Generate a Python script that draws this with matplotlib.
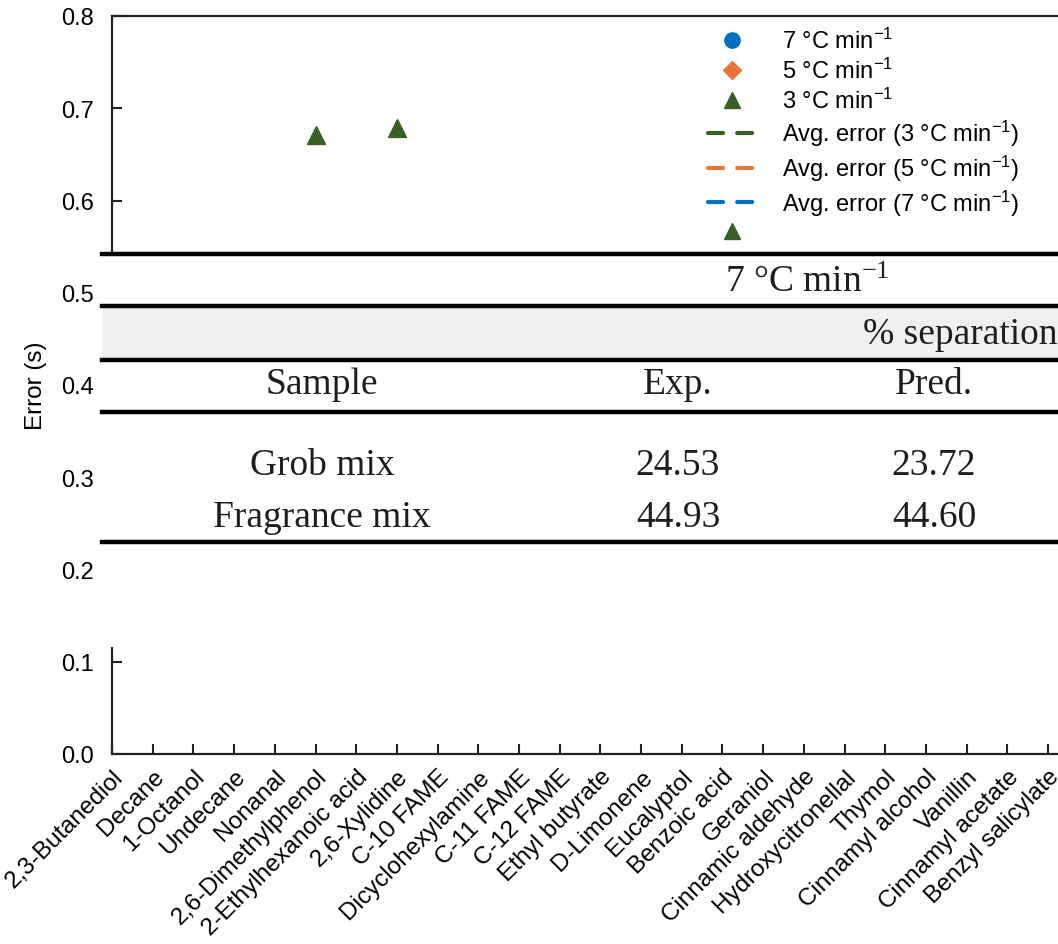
import numpy as np
import matplotlib
matplotlib.use("Agg")
import matplotlib.pyplot as plt
from matplotlib.lines import Line2D
from matplotlib.patches import Rectangle

plt.rcParams["font.family"] = ["Liberation Sans", "DejaVu Sans"]
plt.rcParams["mathtext.default"] = "regular"

# ---------------------------------------------------------------
# Data
# ---------------------------------------------------------------
compounds = [
    "2,3-Butanediol", "Decane", "1-Octanol", "Undecane", "Nonanal",
    "2,6-Dimethylphenol", "2-Ethylhexanoic acid", "2,6-Xylidine",
    "C-10 FAME", "Dicyclohexylamine", "C-11 FAME", "C-12 FAME",
    "Ethyl butyrate", "D-Limonene", "Eucalyptol", "Benzoic acid",
    "Geraniol", "Cinnamic aldehyde", "Hydroxycitronellal", "Thymol",
    "Cinnamyl alcohol", "Vanillin", "Cinnamyl acetate", "Benzyl salicylate",
]
# only the points visible above the table overlay
err_3 = {"2,6-Dimethylphenol": 0.671, "2,6-Xylidine": 0.679}

table_title = r"7 °C min$^{-1}$"
table_group = "% separation"
table_cols = ["Sample", "Exp.", "Pred."]
table_samples = ["Grob mix", "Fragrance mix"]
table_exp = ["24.53", "44.93"]
table_pred = ["23.72", "44.60"]

C_BLUE = "#0070C0"
C_ORANGE = "#E8743B"
C_GREEN = "#3A5F27"

W, H = 1058, 945
fig = plt.figure(figsize=(W / 100, H / 100), dpi=100)


def fx(x):
    return x / W


def fy(y):
    return 1 - y / H


# axes: left spine at x=112, y=0.8 at 17, y=0.0 at 755; 40.7 px per category
x_max = 26
ax = fig.add_axes([fx(112), fy(755), x_max * 40.7 / W, (755 - 17) / H])

idx = {c: i for i, c in enumerate(compounds)}
xs = [idx[c] for c in err_3]
ax.plot(xs, list(err_3.values()), ls="none", marker="^", ms=13, color=C_GREEN)

ax.set_xlim(0, x_max)
ax.set_ylim(0, 0.8)
ax.set_yticks(np.arange(0, 0.81, 0.1))
ax.set_yticklabels([f"{v:.1f}" for v in np.arange(0, 0.81, 0.1)])
ax.set_xticks(range(len(compounds)))
ax.set_xticklabels(compounds, rotation=45, ha="right", va="top",
                   rotation_mode="anchor")
ax.tick_params(axis="both", direction="in", length=7, width=1.5, color="#222")
ax.tick_params(axis="y", pad=13, labelsize=17)
ax.tick_params(axis="x", pad=8, labelsize=17.5)
for s in ["left", "bottom", "top"]:
    ax.spines[s].set_linewidth(1.6)
    ax.spines[s].set_color("#222")
ax.spines["right"].set_visible(False)
ax.set_ylabel("Error (s)", fontsize=17.5, labelpad=10)

# legend
dash = dict(lw=3, dashes=(3.6, 3.4), dash_capstyle="round")
handles = [
    Line2D([], [], ls="none", marker="o", ms=11, color=C_BLUE),
    Line2D([], [], ls="none", marker="D", ms=9, color=C_ORANGE),
    Line2D([], [], ls="none", marker="^", ms=12, color=C_GREEN),
    Line2D([], [], color=C_GREEN, **dash),
    Line2D([], [], color=C_ORANGE, **dash),
    Line2D([], [], color=C_BLUE, **dash),
    Line2D([], [], ls="none", marker="^", ms=12, color=C_GREEN),
]
labels = [
    r"7 °C min$^{-1}$", r"5 °C min$^{-1}$", r"3 °C min$^{-1}$",
    r"Avg. error (3 °C min$^{-1}$)", r"Avg. error (5 °C min$^{-1}$)",
    r"Avg. error (7 °C min$^{-1}$)", "",
]
fig.legend(handles, labels, loc="upper left",
           bbox_to_anchor=(fx(708), fy(29)), frameon=False, fontsize=17,
           handlelength=2.0, handletextpad=1.15, labelspacing=0.2,
           borderaxespad=0, borderpad=0)

# ---------------------------------------------------------------
# table overlay
# ---------------------------------------------------------------
x0 = 102
fig.add_artist(Rectangle((fx(x0), fy(648)), 1 - fx(x0), (648 - 253) / H,
                         transform=fig.transFigure, facecolor="white",
                         edgecolor="none", zorder=10))
fig.add_artist(Rectangle((fx(x0), fy(360)), 1 - fx(x0), (360 - 308) / H,
                         transform=fig.transFigure, facecolor="#f0f0f0",
                         edgecolor="none", zorder=11))
for yl in [255, 307, 361, 413, 543]:
    fig.add_artist(Line2D([fx(x0), 1], [fy(yl), fy(yl)], color="black",
                          lw=3.2, transform=fig.transFigure, zorder=12))

tkw = dict(family=["Liberation Serif", "DejaVu Serif"], fontsize=27,
           color="#1e1e1e", va="baseline", zorder=13)
fig.text(fx(807), fy(292), table_title, ha="center", **tkw)
fig.text(fx(863), fy(344), table_group, ha="left", **tkw)
col_x = [322, 678, 934]
for cx, t in zip(col_x, table_cols):
    fig.text(fx(cx), fy(394), t, ha="center", **tkw)
for by, s, e, p in zip([475, 527], table_samples, table_exp, table_pred):
    fig.text(fx(col_x[0]), fy(by), s, ha="center", **tkw)
    fig.text(fx(col_x[1]), fy(by), e, ha="center", **tkw)
    fig.text(fx(col_x[2]), fy(by), p, ha="center", **tkw)

fig.savefig("out.png", dpi=100)
